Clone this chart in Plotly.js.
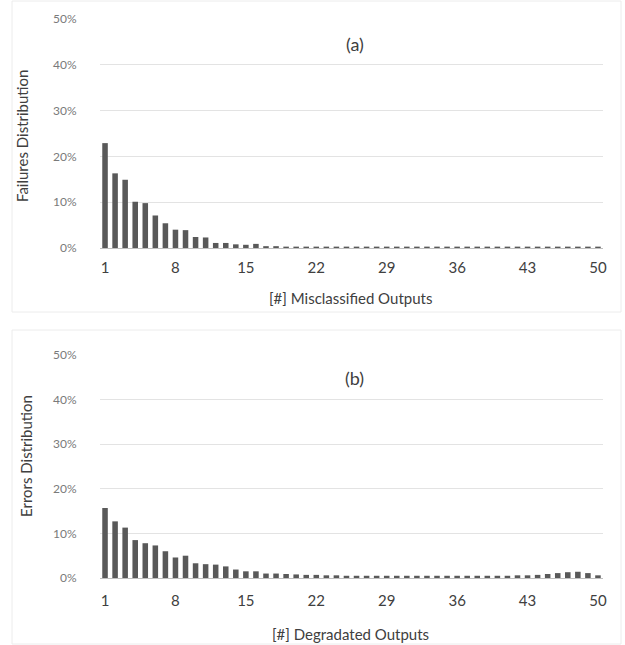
<!DOCTYPE html>
<html>
<head>
<meta charset="utf-8">
<script src="https://cdn.plot.ly/plotly-3.0.1.min.js"></script>
<style>html,body{margin:0;padding:0;background:#fff;}#chart{width:625px;height:645px;}</style>
</head>
<body>
<div id="chart"></div>
<script>
var categories = [];
for (var i = 1; i <= 50; i++) categories.push(i);

var failures = [22.9, 16.3, 14.9, 10.1, 9.8, 7.1, 5.4, 4.0, 3.9, 2.4,
                2.3, 1.1, 1.1, 0.8, 0.7, 0.9, 0.4, 0.4, 0.3, 0.3,
                0.3, 0.3, 0.3, 0.3, 0.3, 0.3, 0.3, 0.3, 0.3, 0.3,
                0.3, 0.3, 0.3, 0.3, 0.3, 0.3, 0.3, 0.3, 0.3, 0.3,
                0.3, 0.3, 0.3, 0.3, 0.3, 0.3, 0.3, 0.3, 0.3, 0.3];

var errors = [15.7, 12.7, 11.3, 8.5, 7.8, 7.3, 6.0, 4.6, 5.0, 3.3,
              3.1, 3.0, 2.6, 1.9, 1.5, 1.5, 1.0, 1.0, 0.9, 0.8,
              0.7, 0.7, 0.6, 0.6, 0.5, 0.5, 0.5, 0.5, 0.5, 0.5,
              0.5, 0.5, 0.5, 0.5, 0.5, 0.5, 0.5, 0.5, 0.5, 0.5,
              0.5, 0.6, 0.6, 0.7, 0.9, 1.1, 1.3, 1.4, 1.1, 0.6];

var xTickVals = [1, 8, 15, 22, 29, 36, 43, 50];
var yTickVals = [0, 10, 20, 30, 40, 50];
var yTickText = ['0%', '10%', '20%', '30%', '40%', '50%'];

var FONT = 'Lato, "Open Sans", sans-serif';
var barColor = '#595959';

var traces = [
  {type: 'bar', x: categories, y: failures, xaxis: 'x', yaxis: 'y',
   marker: {color: barColor}, hoverinfo: 'x+y'},
  {type: 'bar', x: categories, y: errors, xaxis: 'x2', yaxis: 'y2',
   marker: {color: barColor}, hoverinfo: 'x+y'}
];

function xa(anchor, tl) {
  return {domain: [100/625, 603/625], anchor: anchor, range: [0.5, 50.5],
          tickmode: 'array', tickvals: xTickVals, ticks: 'outside', ticklen: tl,
          tickcolor: 'rgba(0,0,0,0)',
          showgrid: false, zeroline: false, showline: true,
          linecolor: '#bfbfbf', linewidth: 1,
          tickfont: {family: FONT, size: 15, color: '#404040'},
          fixedrange: true};
}
function ya(anchor, dom) {
  return {domain: dom, anchor: anchor, range: [0, 50],
          tickmode: 'array', tickvals: yTickVals, ticktext: yTickText,
          showgrid: true, gridcolor: '#e3e3e3', gridwidth: 1,
          zeroline: false, showline: false, ticks: 'outside', ticklen: 20,
          tickcolor: 'rgba(0,0,0,0)',
          tickfont: {family: FONT, size: 12, color: '#7a7a7a'},
          fixedrange: true};
}

function ann(text, x, y, size, angle) {
  return {text: text, xref: 'paper', yref: 'paper', x: x/625, y: 1 - y/645,
          xanchor: 'center', yanchor: 'middle', textangle: angle || 0,
          showarrow: false, font: {family: FONT, size: size, color: '#404040'}};
}

var layout = {
  width: 625, height: 645,
  margin: {l: 0, r: 0, t: 0, b: 0},
  paper_bgcolor: '#ffffff', plot_bgcolor: '#ffffff',
  showlegend: false, bargap: 0.45,
  xaxis: xa('y', 6),
  yaxis: ya('x', [1 - 248/645, 1 - 19/645]),
  xaxis2: xa('y2', 9),
  yaxis2: ya('x2', [1 - 578/645, 1 - 355/645]),
  shapes: [
    {type: 'rect', xref: 'paper', yref: 'paper', x0: 12/625, x1: 621/625,
     y0: 1 - 312/645, y1: 1 - 1/645, line: {color: '#ececec', width: 1}},
    {type: 'rect', xref: 'paper', yref: 'paper', x0: 12/625, x1: 621/625,
     y0: 1 - 644/645, y1: 1 - 330/645, line: {color: '#ececec', width: 1}}
  ],
  annotations: [
    ann('(a)', 355, 44, 18),
    ann('(b)', 355, 378, 18),
    ann('Failures Distribution', 22, 136, 15, -90),
    ann('Errors Distribution', 26, 456, 15, -90),
    ann('[#] Misclassified Outputs', 350, 298, 15),
    ann('[#] Degradated Outputs', 350, 634, 15)
  ]
};

Plotly.newPlot('chart', traces, layout, {displayModeBar: false, staticPlot: true});
</script>
</body>
</html>
